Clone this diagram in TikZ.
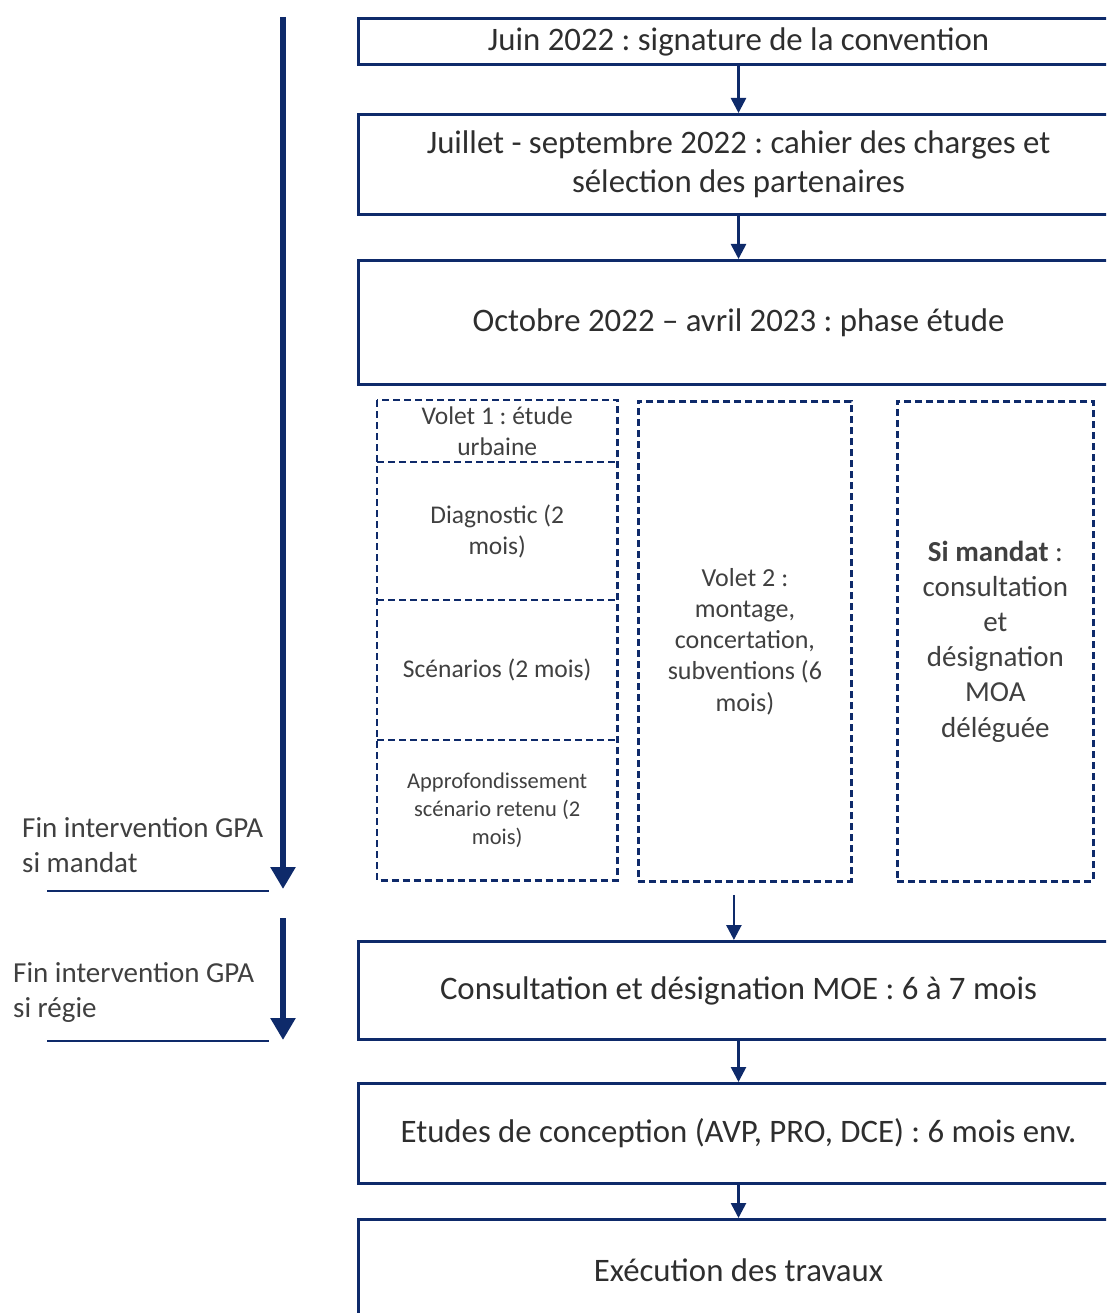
\documentclass[tikz,border=0pt]{standalone}
\usepackage{fontspec}
\setmainfont{Carlito}
\usetikzlibrary{arrows.meta}
\definecolor{navy}{HTML}{0E2A6A}
\definecolor{txtmain}{HTML}{2E2E2E}
\definecolor{txtsub}{HTML}{404040}
\frenchspacing
\tikzset{
  mainbox/.style={draw=navy, line width=3pt, inner sep=0pt, anchor=north west,
    text=txtmain, font=\fontsize{32.8}{39}\selectfont, align=center},
  dstyle/.style={draw=navy, line width=2.8pt, dash pattern=on 7pt off 4pt},
  dbox/.style={dstyle, inner sep=0pt, anchor=north west, text=txtsub, align=center},
  dcell/.style={inner sep=0pt, anchor=north west, text=txtsub, align=center},
  conn/.style={draw=navy, line width=2.6pt, -{Triangle[width=15pt,length=15pt]}},
  tline/.style={draw=navy, line width=6pt, -{Triangle[width=24pt,length=22pt]}},
  hline/.style={draw=navy, line width=1.5pt},
  sidelabel/.style={text=txtsub, font=\fontsize{29}{35}\selectfont, align=left,
    inner sep=0pt, anchor=west}
}
\begin{document}
\begin{tikzpicture}[x=1pt,y=-1pt]
\useasboundingbox (0,0) rectangle (1106,1313);
\clip (0,0) rectangle (1106,1313);
% main boxes
\node[mainbox, minimum width=760pt, minimum height=46pt] (b1) at (357,17)
  {\raisebox{-2pt}{Juin 2022 : signature de la convention}};
\node[mainbox, minimum width=760pt, minimum height=100pt] (b2) at (357,113)
  {Juillet - septembre 2022 : cahier des charges et\\sélection des partenaires};
\node[mainbox, minimum width=760pt, minimum height=124pt] (b3) at (357,259)
  {Octobre 2022 -- avril 2023 : phase étude};
\node[mainbox, minimum width=760pt, minimum height=98pt] (b4) at (357,940)
  {Consultation et désignation MOE : 6 à 7 mois};
\node[mainbox, minimum width=760pt, minimum height=100pt] (b5) at (357,1082)
  {Etudes de conception (AVP, PRO, DCE) : 6 mois env.};
\node[mainbox, minimum width=760pt, minimum height=102pt] (b6) at (357,1218)
  {Exécution des travaux};
% dashed column 1 (cells)
\node[dcell, minimum width=240pt, minimum height=62pt,
  font=\fontsize{25.5}{31}\selectfont] (v1a) at (377,400) {Volet 1 : étude\\urbaine};
\node[dcell, minimum width=240pt, minimum height=138pt,
  font=\fontsize{25.5}{31}\selectfont] (v1b) at (377,462) {Diagnostic (2\\mois)};
\node[dcell, minimum width=240pt, minimum height=140pt,
  font=\fontsize{25.5}{31}\selectfont] (v1c) at (377,600) {Scénarios (2 mois)};
\node[dcell, minimum width=240pt, minimum height=140pt,
  font=\fontsize{22.5}{28}\selectfont] (v1d) at (377,740) {Approfondissement\\scénario retenu (2\\mois)};
\draw[dstyle] (v1a.north west) rectangle (v1d.south east);
\draw[dstyle] (v1b.north west) -- (v1b.north east);
\draw[dstyle] (v1c.north west) -- (v1c.north east);
\draw[dstyle] (v1d.north west) -- (v1d.north east);
% dashed column 2
\node[dbox, minimum width=213pt, minimum height=480pt,
  font=\fontsize{26}{31.3}\selectfont] (v2) at (637,400)
  {Volet 2 :\\montage,\\concertation,\\subventions (6\\mois)};
% dashed column 3
\node[dbox, minimum width=196pt, minimum height=480pt,
  font=\fontsize{29}{35.2}\selectfont] (v3) at (896,400)
  {\textbf{Si mandat} :\\consultation\\et\\désignation\\MOA\\déléguée};
% connectors
\draw[conn] (b1) -- (b2);
\draw[conn] (b2) -- (b3);
\draw[conn, shorten <=12pt] ([xshift=-11pt]v2.south) -- ([xshift=-11pt]v2.south |- b4.north);
\draw[conn] (b4) -- (b5);
\draw[conn] (b5) -- (b6);
% timeline
\coordinate (t1s) at (283,17);
\coordinate (t1e) at (283,889);
\coordinate (t2s) at (283,918);
\coordinate (t2e) at (283,1040);
\draw[tline] (t1s) -- (t1e);
\draw[tline] (t2s) -- (t2e);
\coordinate (h1a) at (47,891);
\coordinate (h1b) at (269,891);
\coordinate (h2a) at (47,1041);
\coordinate (h2b) at (269,1041);
\draw[hline] (h1a) -- (h1b);
\draw[hline] (h2a) -- (h2b);
\node[sidelabel] (l1) at (22,845) {Fin intervention GPA\\si mandat};
\node[sidelabel] (l2) at (13,992) {Fin intervention GPA\\si régie};
\end{tikzpicture}
\end{document}
